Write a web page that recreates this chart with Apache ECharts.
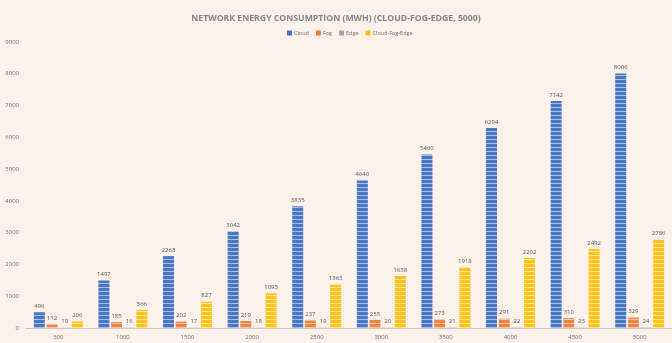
<!DOCTYPE html>
<html>
<head>
<meta charset="utf-8">
<script src="https://cdn.jsdelivr.net/npm/echarts@6/dist/echarts.min.js"></script>
<style>
  html, body { margin: 0; padding: 0; background: #fcf2ec; }
  #chart { width: 672px; height: 343px; }
</style>
</head>
<body>
<div id="chart"></div>
<script>
// Network energy consumption per layer (MWh), by number of devices
const categories = ['500', '1000', '1500', '2000', '2500', '3000', '3500', '4000', '4500', '5000'];
const cloud = [496, 1497, 2263, 3042, 3835, 4640, 5460, 6294, 7142, 8006];
const fog = [112, 185, 202, 219, 237, 255, 273, 291, 310, 329];
const edge = [10, 16, 17, 18, 19, 20, 21, 22, 23, 24];
const cloudFogEdge = [206, 566, 827, 1093, 1363, 1638, 1918, 2202, 2492, 2786];
const seriesNames = ['Cloud', 'Fog', 'Edge', 'Cloud-Fog-Edge'];
const yTicks = [0, 1000, 2000, 3000, 4000, 5000, 6000, 7000, 8000, 9000];

// horizontal stripe fill: solid body with a lighter line every 4px
function stripes(base, light) {
  const c = document.createElement('canvas');
  c.width = 4; c.height = 4;
  const g = c.getContext('2d');
  g.fillStyle = base; g.fillRect(0, 0, 4, 4);
  g.fillStyle = light; g.fillRect(0, 3, 4, 1);
  return { image: c, repeat: 'repeat' };
}

const palette = [
  { solid: '#4472c4', fill: stripes('#4a76c6', '#a9bfe6') },
  { solid: '#ed7d31', fill: stripes('#ee8446', '#f7c3a3') },
  { solid: '#a5a5a5', fill: stripes('#a5a5a5', '#d6d6d6') },
  { solid: '#ffc000', fill: stripes('#ffc21a', '#ffe596') }
];

const values = [cloud, fog, edge, cloudFogEdge];

const chart = echarts.init(document.getElementById('chart'), null, { renderer: 'canvas' });
chart.setOption({
  backgroundColor: '#fcf2ec',
  animation: false,
  title: {
    text: 'NETWORK ENERGY CONSUMPTION (MWH) (CLOUD-FOG-EDGE, 5000)',
    left: 'center',
    top: 9,
    textStyle: { fontFamily: 'Open Sans', fontSize: 8.7, fontWeight: 'bold', color: '#858585' }
  },
  legend: {
    top: 25,
    left: 282,
    itemWidth: 5,
    itemHeight: 5,
    itemGap: 7,
    icon: 'rect',
    textStyle: { fontFamily: 'Open Sans', fontSize: 5.5, color: '#6e6e6e', padding: [0, 0, 0, -3] },
    data: seriesNames.map((n, i) => ({ name: n, itemStyle: { color: palette[i].solid } }))
  },
  grid: { left: 26, right: -5, top: 42, bottom: 15, containLabel: false },
  xAxis: {
    type: 'category',
    data: categories,
    axisLine: { lineStyle: { color: '#c8c8c8', width: 1 } },
    axisTick: { show: false },
    axisLabel: { fontFamily: 'Open Sans', fontSize: 6, color: '#6e6e6e', margin: 6 }
  },
  yAxis: {
    type: 'value',
    min: yTicks[0],
    max: yTicks[yTicks.length - 1],
    interval: 1000,
    splitLine: { show: false },
    axisLine: { show: false },
    axisTick: { show: false },
    axisLabel: {
      fontFamily: 'Open Sans', fontSize: 6, color: '#6e6e6e', margin: 7,
      formatter: v => String(v)
    }
  },
  series: seriesNames.map((n, i) => ({
    name: n,
    type: 'bar',
    data: values[i],
    barWidth: 11,
    barGap: '15%',
    itemStyle: { color: palette[i].fill },
    label: {
      show: true,
      position: 'top',
      distance: 3,
      fontFamily: 'Open Sans',
      fontSize: 6,
      color: '#555555'
    }
  }))
});
</script>
</body>
</html>
